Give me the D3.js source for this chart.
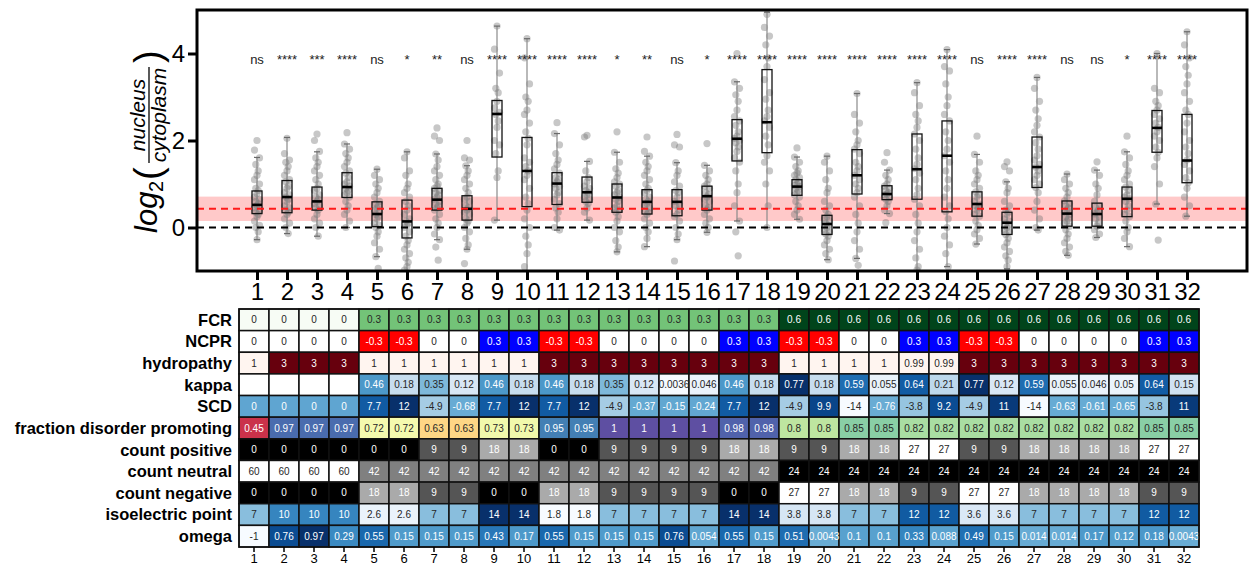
<!DOCTYPE html>
<html>
<head>
<meta charset="utf-8">
<script src="https://cdn.jsdelivr.net/npm/d3@7"></script>
<style>
  body { margin: 0; background: #fff; }
  text { font-family: "Liberation Sans", Arial, sans-serif; }
</style>
</head>
<body>
<script>
// categories (constructs 1..32)
var categories = ["1","2","3","4","5","6","7","8","9","10","11","12","13","14","15","16",
                  "17","18","19","20","21","22","23","24","25","26","27","28","29","30","31","32"];

// significance labels above each box
var significance = ["ns","****","***","****","ns","*","**","ns","****","****","****","****","*","**","ns","*",
                    "****","****","****","****","****","****","****","****","ns","****","****","ns","ns","*","****","****"];

// box statistics, log2(nucleus/cytoplasm)
var boxQ1     = [0.32,0.34,0.40,0.69,0.02,-0.24,0.40,0.17,1.62,0.48,0.53,0.58,0.35,0.31,0.27,0.40,1.53,1.72,0.74,-0.16,0.77,0.64,0.65,0.36,0.26,-0.16,0.92,0.03,0.03,0.25,1.73,1.03];
var boxMedian = [0.52,0.70,0.60,0.93,0.31,0.14,0.64,0.43,2.61,1.30,1.01,0.81,0.69,0.59,0.59,0.72,2.04,2.42,0.94,0.08,1.20,0.77,1.34,1.65,0.54,0.11,1.39,0.32,0.31,0.66,2.29,1.54];
var boxQ3     = [0.84,1.08,0.93,1.26,0.59,0.63,0.90,0.73,2.92,2.07,1.26,1.16,1.00,0.87,0.87,0.95,2.48,3.63,1.10,0.28,1.79,0.96,2.15,2.45,0.82,0.35,2.08,0.61,0.56,0.93,2.69,2.60];
var whiskerLow  = [-0.28,-0.14,-0.20,0.00,-0.67,-1.1,-0.28,-0.50,0.17,-1.1,-0.06,0.17,-0.56,-0.44,-0.28,-0.11,0.15,0.00,0.19,-0.74,-0.71,0.32,-1.1,-0.90,-0.38,-0.95,-0.06,-0.64,-0.23,-0.44,0.54,0.26];
var whiskerHigh = [1.61,2.07,1.74,1.92,1.34,1.74,1.69,1.42,4.63,4.34,2.16,1.52,1.73,1.64,1.49,1.43,3.35,4.95,1.62,1.64,3.08,1.32,3.33,4.09,1.68,1.05,3.45,1.23,1.32,1.74,4.00,4.50];

// individual cells
var points = [
  [2.0,1.78,1.6,1.45,1.3,1.2,1.1,1.0,0.9,0.85,0.78,0.7,0.65,0.6,0.55,0.5,0.45,0.4,0.35,0.3,0.25,0.15,0.05,0.0,-0.1,-0.28],
  [2.05,1.7,1.55,1.5,1.4,1.3,1.2,1.1,1.05,0.95,0.9,0.8,0.75,0.7,0.65,0.6,0.5,0.45,0.4,0.35,0.3,0.2,0.1,0.0,-0.14],
  [2.15,2.0,1.75,1.6,1.5,1.4,1.3,1.2,1.1,1.0,0.9,0.85,0.75,0.7,0.65,0.6,0.55,0.5,0.45,0.4,0.3,0.2,0.1,0.0,-0.2],
  [2.18,1.92,1.8,1.7,1.6,1.5,1.4,1.3,1.25,1.15,1.05,1.0,0.95,0.9,0.85,0.8,0.75,0.7,0.6,0.5,0.4,0.3,0.15,0.0],
  [1.34,1.2,1.1,1.0,0.9,0.8,0.7,0.6,0.55,0.5,0.45,0.4,0.35,0.3,0.25,0.2,0.1,0.05,0.0,-0.1,-0.2,-0.35,-0.5,-0.67,-0.94],
  [1.74,1.6,1.3,1.2,1.0,0.9,0.8,0.7,0.6,0.5,0.4,0.3,0.2,0.15,0.1,0.05,0.0,-0.1,-0.2,-0.3,-0.4,-0.5,-0.6,-0.7,-0.8,-0.9,-0.98],
  [2.29,2.1,2.0,1.69,1.55,1.4,1.3,1.2,1.1,1.0,0.95,0.9,0.85,0.8,0.75,0.7,0.65,0.6,0.55,0.5,0.45,0.4,0.3,0.2,0.1,0.0,-0.15,-0.28,-0.45,-0.75],
  [2.0,1.6,1.55,1.42,1.3,1.2,1.1,1.0,0.9,0.8,0.7,0.65,0.6,0.5,0.45,0.4,0.35,0.3,0.2,0.15,0.1,0.0,-0.1,-0.25,-0.4,-0.5,-0.83],
  [4.63,4.1,3.55,3.2,3.1,2.9,2.75,2.65,2.6,2.45,2.3,2.0,1.9,1.7,1.3,1.15,0.17],
  [4.34,3.9,3.3,3.0,2.9,2.7,2.6,2.4,2.2,2.05,1.9,1.6,1.5,1.4,1.3,1.2,1.1,0.9,0.7,0.55,0.4,0.2,0.0,-0.2,-0.4,-0.6,-0.9],
  [2.41,2.16,1.9,1.7,1.55,1.45,1.35,1.25,1.15,1.1,1.05,1.0,0.95,0.9,0.8,0.75,0.65,0.55,0.45,0.35,0.2,0.0,-0.06],
  [2.12,2.08,1.52,1.3,1.15,1.05,0.95,0.9,0.85,0.8,0.75,0.7,0.65,0.6,0.55,0.45,0.35,0.17],
  [2.2,1.73,1.5,1.35,1.25,1.15,1.05,1.0,0.95,0.85,0.8,0.75,0.7,0.65,0.6,0.5,0.45,0.4,0.35,0.25,0.15,0.0,-0.1,-0.3,-0.45,-0.56],
  [2.08,1.75,1.64,1.5,1.4,1.3,1.2,1.1,1.0,0.9,0.85,0.8,0.7,0.65,0.6,0.55,0.5,0.45,0.4,0.35,0.3,0.2,0.1,0.0,-0.1,-0.25,-0.44],
  [2.14,1.9,1.85,1.49,1.3,1.2,1.05,0.95,0.85,0.8,0.7,0.6,0.55,0.5,0.4,0.3,0.25,0.15,0.0,-0.15,-0.28,-0.77],
  [1.93,1.43,1.3,1.2,1.1,1.0,0.95,0.9,0.8,0.75,0.7,0.65,0.6,0.5,0.45,0.4,0.3,0.2,0.1,0.0,-0.11],
  [4.0,3.35,3.2,3.05,2.9,2.7,2.55,2.45,2.35,2.2,2.1,2.05,2.0,1.95,1.85,1.75,1.6,1.5,1.3,1.0,0.8,0.5,0.15,-0.1,-0.65],
  [4.9,4.6,4.4,4.2,3.9,3.7,3.4,3.1,2.95,2.7,2.55,2.45,2.3,2.1,1.9,1.65,1.5,1.3,1.0,0.5,0.0],
  [1.83,1.62,1.5,1.4,1.3,1.25,1.2,1.15,1.1,1.05,1.0,0.97,0.94,0.9,0.85,0.8,0.75,0.7,0.6,0.5,0.4,0.3,0.19],
  [1.64,1.5,1.3,1.1,0.9,0.8,0.6,0.5,0.4,0.3,0.25,0.2,0.15,0.1,0.05,0.0,-0.05,-0.1,-0.15,-0.2,-0.3,-0.4,-0.5,-0.6,-0.74],
  [3.08,2.6,2.4,2.2,2.0,1.9,1.8,1.7,1.5,1.4,1.3,1.2,1.1,1.0,0.9,0.8,0.7,0.5,0.3,0.1,-0.1,-0.3,-0.5,-0.71,-0.87],
  [1.72,1.5,1.32,1.2,1.1,1.0,0.95,0.9,0.85,0.8,0.77,0.75,0.7,0.65,0.6,0.5,0.4,0.32,0.11],
  [3.33,3.1,2.8,2.6,2.45,2.3,2.15,2.0,1.8,1.6,1.45,1.35,1.25,1.1,0.9,0.75,0.65,0.5,0.3,0.1,-0.1,-0.3,-0.5,-0.7,-0.9,-0.98],
  [4.09,3.7,3.6,3.3,3.0,2.8,2.6,2.45,2.2,2.0,1.8,1.65,1.5,1.3,1.1,0.9,0.7,0.5,0.36,0.2,0.0,-0.2,-0.4,-0.6,-0.9],
  [2.1,1.68,1.5,1.3,1.2,1.1,1.0,0.9,0.82,0.75,0.7,0.6,0.54,0.5,0.45,0.4,0.3,0.26,0.15,0.05,-0.05,-0.15,-0.25,-0.38],
  [1.51,1.4,1.3,1.05,0.9,0.8,0.6,0.5,0.4,0.35,0.3,0.2,0.15,0.1,0.05,0.0,-0.05,-0.1,-0.16,-0.25,-0.35,-0.45,-0.55,-0.65,-0.75,-0.9],
  [3.45,3.2,2.9,2.7,2.5,2.35,2.2,2.08,1.95,1.8,1.65,1.55,1.45,1.39,1.3,1.2,1.1,1.0,0.92,0.8,0.6,0.4,0.2,0.0,-0.06],
  [1.23,1.1,1.0,0.9,0.8,0.7,0.61,0.55,0.5,0.45,0.4,0.35,0.3,0.25,0.2,0.15,0.1,0.03,-0.05,-0.15,-0.25,-0.35,-0.45,-0.55,-0.64],
  [1.51,1.32,1.2,1.0,0.9,0.75,0.6,0.5,0.45,0.4,0.35,0.31,0.25,0.2,0.1,0.03,-0.05,-0.15,-0.23],
  [2.1,1.74,1.6,1.45,1.3,1.2,1.1,1.0,0.93,0.85,0.75,0.7,0.66,0.6,0.5,0.4,0.3,0.25,0.15,0.0,-0.1,-0.25,-0.44],
  [4.0,3.2,3.1,2.9,2.8,2.7,2.6,2.5,2.4,2.3,2.2,2.1,2.0,1.85,1.73,1.6,1.4,1.0,0.54,-0.29],
  [4.5,4.2,3.9,3.7,3.5,3.3,3.1,2.9,2.7,2.6,2.4,2.2,2.0,1.85,1.7,1.55,1.45,1.3,1.15,1.03,0.9,0.7,0.5,0.26]
];

// reference band (mean +/- spread) and reference line
var refBand = [0.15, 0.71];
var refLine = 0.43;

// heatmap rows
var rowNames = ["FCR","NCPR","hydropathy","kappa","SCD","fraction disorder promoting",
                "count positive","count neutral","count negative","isoelectric point","omega"];
var fcr = [0,0,0,0,0.3,0.3,0.3,0.3,0.3,0.3,0.3,0.3,0.3,0.3,0.3,0.3,0.3,0.3,0.6,0.6,0.6,0.6,0.6,0.6,0.6,0.6,0.6,0.6,0.6,0.6,0.6,0.6];
var ncpr = [0,0,0,0,-0.3,-0.3,0,0,0.3,0.3,-0.3,-0.3,0,0,0,0,0.3,0.3,-0.3,-0.3,0,0,0.3,0.3,-0.3,-0.3,0,0,0,0,0.3,0.3];
var hydropathy = [1,3,3,3,1,1,1,1,1,1,3,3,3,3,3,3,3,3,1,1,1,1,0.99,0.99,3,3,3,3,3,3,3,3];
var kappa = [null,null,null,null,0.46,0.18,0.35,0.12,0.46,0.18,0.46,0.18,0.35,0.12,0.0036,0.046,0.46,0.18,0.77,0.18,0.59,0.055,0.64,0.21,0.77,0.12,0.59,0.055,0.046,0.05,0.64,0.15];
var scd = [0,0,0,0,7.7,12,-4.9,-0.68,7.7,12,7.7,12,-4.9,-0.37,-0.15,-0.24,7.7,12,-4.9,9.9,-14,-0.76,-3.8,9.2,-4.9,11,-14,-0.63,-0.61,-0.65,-3.8,11];
var fracDisorder = [0.45,0.97,0.97,0.97,0.72,0.72,0.63,0.63,0.73,0.73,0.95,0.95,1,1,1,1,0.98,0.98,0.8,0.8,0.85,0.85,0.82,0.82,0.82,0.82,0.82,0.82,0.82,0.82,0.85,0.85];
var countPositive = [0,0,0,0,0,0,9,9,18,18,0,0,9,9,9,9,18,18,9,9,18,18,27,27,9,9,18,18,18,18,27,27];
var countNeutral = [60,60,60,60,42,42,42,42,42,42,42,42,42,42,42,42,42,42,24,24,24,24,24,24,24,24,24,24,24,24,24,24];
var countNegative = [0,0,0,0,18,18,9,9,0,0,18,18,9,9,9,9,0,0,27,27,18,18,9,9,27,27,18,18,18,18,9,9];
var isoelectric = [7,10,10,10,2.6,2.6,7,7,14,14,1.8,1.8,7,7,7,7,14,14,3.8,3.8,7,7,12,12,3.6,3.6,7,7,7,7,12,12];
var omega = [-1,0.76,0.97,0.29,0.55,0.15,0.15,0.15,0.43,0.17,0.55,0.15,0.15,0.15,0.76,0.054,0.55,0.15,0.51,0.0043,0.1,0.1,0.33,0.088,0.49,0.15,0.014,0.014,0.17,0.12,0.18,0.0043];

window.onload = function () {
    var w = 1249, h = 565;

    var svg = d3.select('body').append('svg')
        .attr('width', w)
        .attr('height', h);

    // ---------- box plot panel ----------
    var plot = {left: 197, right: 1247, top: 10, bottom: 271};

    var x = d3.scalePoint()
        .domain(categories)
        .range([plot.left, plot.right])
        .padding(2);

    var y = d3.scaleLinear()
        .domain([-1, 5])
        .range([plot.bottom, plot.top]);

    svg.append('clipPath').attr('id', 'plotClip')
        .append('rect')
        .attr('x', plot.left).attr('y', plot.top)
        .attr('width', plot.right - plot.left)
        .attr('height', plot.bottom - plot.top);

    var inner = svg.append('g').attr('clip-path', 'url(#plotClip)');

    inner.append('rect')
        .attr('x', plot.left)
        .attr('width', plot.right - plot.left)
        .attr('y', y(refBand[1]))
        .attr('height', y(refBand[0]) - y(refBand[1]))
        .style('fill', '#ffc9c9');

    var boxes = categories.map(function (c, i) {
        return {cat: c, q1: boxQ1[i], med: boxMedian[i], q3: boxQ3[i],
                lo: whiskerLow[i], hi: whiskerHigh[i], pts: points[i], sig: significance[i]};
    });

    var jitter = [0, -2.5, 2.5, -1.2, 1.2];

    var groups = inner.selectAll('.box')
        .data(boxes)
        .enter()
        .append('g')
        .attr('class', 'box');

    groups.selectAll('circle')
        .data(function (d) {
            return d.pts.map(function (v, j) { return {cat: d.cat, v: v, j: j}; });
        })
        .enter()
        .append('circle')
        .attr('cx', function (d) { return x(d.cat) + jitter[d.j % 5]; })
        .attr('cy', function (d) { return y(d.v); })
        .attr('r', 3.6)
        .style('fill', 'rgba(115,115,115,0.4)');

    var bw = 10;

    groups.append('line')
        .attr('x1', function (d) { return x(d.cat); })
        .attr('x2', function (d) { return x(d.cat); })
        .attr('y1', function (d) { return y(d.lo); })
        .attr('y2', function (d) { return y(d.hi); })
        .style('stroke', '#8a8a8a')
        .style('stroke-width', 1.2);

    ['lo', 'hi'].forEach(function (k) {
        groups.append('line')
            .attr('x1', function (d) { return x(d.cat) - 3; })
            .attr('x2', function (d) { return x(d.cat) + 3; })
            .attr('y1', function (d) { return y(d[k]); })
            .attr('y2', function (d) { return y(d[k]); })
            .style('stroke', '#6a6a6a')
            .style('stroke-width', 1.2);
    });

    groups.append('rect')
        .attr('x', function (d) { return x(d.cat) - bw / 2; })
        .attr('y', function (d) { return y(d.q3); })
        .attr('width', bw)
        .attr('height', function (d) { return y(d.q1) - y(d.q3); })
        .style('fill', 'none')
        .style('stroke', '#111')
        .style('stroke-width', 1.3);

    groups.append('line')
        .attr('x1', function (d) { return x(d.cat) - bw / 2; })
        .attr('x2', function (d) { return x(d.cat) + bw / 2; })
        .attr('y1', function (d) { return y(d.med); })
        .attr('y2', function (d) { return y(d.med); })
        .style('stroke', '#000')
        .style('stroke-width', 2.6);

    // dashed reference lines
    inner.append('line')
        .attr('x1', plot.left).attr('x2', plot.right)
        .attr('y1', y(refLine)).attr('y2', y(refLine))
        .style('stroke', '#ff1a1a')
        .style('stroke-width', 2)
        .style('stroke-dasharray', '7,5');

    inner.append('line')
        .attr('x1', plot.left).attr('x2', plot.right)
        .attr('y1', y(0)).attr('y2', y(0))
        .style('stroke', '#000')
        .style('stroke-width', 2)
        .style('stroke-dasharray', '7,5');

    // significance labels
    svg.selectAll('.sig')
        .data(boxes)
        .enter()
        .append('text')
        .attr('class', 'sig')
        .attr('x', function (d) { return x(d.cat); })
        .attr('y', y(3.75))
        .attr('text-anchor', 'middle')
        .style('font-size', '13px')
        .style('fill', '#222')
        .text(function (d) { return d.sig; });

    // frame
    svg.append('rect')
        .attr('x', plot.left).attr('y', plot.top)
        .attr('width', plot.right - plot.left)
        .attr('height', plot.bottom - plot.top)
        .style('fill', 'none')
        .style('stroke', '#000')
        .style('stroke-width', 3);

    var xAxis = svg.append('g')
        .attr('class', 'axis')
        .attr('transform', 'translate(0,' + plot.bottom + ')')
        .call(d3.axisBottom(x).tickSize(9));

    var yAxis = svg.append('g')
        .attr('class', 'axis')
        .attr('transform', 'translate(' + plot.left + ',0)')
        .call(d3.axisLeft(y).tickValues([0, 2, 4]).tickFormat(d3.format('d')).tickSize(9));

    [xAxis, yAxis].forEach(function (a) {
        a.select('.domain').remove();
        a.selectAll('line').style('stroke', '#000').style('stroke-width', 3);
        a.selectAll('text')
            .style('font-family', '"Liberation Sans", Arial, sans-serif')
            .style('font-size', '24px')
            .style('fill', '#000');
    });

    // y axis title: log2(nucleus / cytoplasm)
    var yt = svg.append('g')
        .attr('transform', 'translate(157,233) rotate(-90)');
    yt.append('text').attr('x', 0).attr('y', 0)
        .style('font-size', '31px').style('font-style', 'italic').text('log');
    yt.append('text').attr('x', 41).attr('y', 6)
        .style('font-size', '20px').text('2');
    yt.append('text').attr('x', 53).attr('y', 4)
        .style('font-size', '38px').text('(');
    yt.append('text').attr('x', 118).attr('y', -12)
        .attr('text-anchor', 'middle')
        .style('font-size', '21px').style('font-style', 'italic').text('nucleus');
    yt.append('line')
        .attr('x1', 70).attr('x2', 166)
        .attr('y1', -8).attr('y2', -8)
        .style('stroke', '#000').style('stroke-width', 1.3);
    yt.append('text').attr('x', 118).attr('y', 9)
        .attr('text-anchor', 'middle')
        .style('font-size', '21px').style('font-style', 'italic').text('cytoplasm');
    yt.append('text').attr('x', 170).attr('y', 4)
        .style('font-size', '38px').text(')');

    // ---------- heatmap ----------
    var hm = {left: 239, right: 1199, top: 309, bottom: 547};

    var hx = d3.scaleBand()
        .domain(categories)
        .range([hm.left, hm.right]);

    var hy = d3.scaleBand()
        .domain(rowNames)
        .range([hm.top, hm.bottom]);

    var greyRamp = d3.interpolateRgb('#000000', '#ffffff');

    var rowData = [
        {name: 'FCR', vals: fcr, color: d3.scaleSequential(d3.interpolateGreens).domain([0, 0.6])},
        {name: 'NCPR', vals: ncpr, color: d3.scaleLinear().domain([-0.3, 0, 0.3]).range(['#ff0000', '#ffffff', '#0000ff'])},
        {name: 'hydropathy', vals: hydropathy, color: d3.scaleSequential(d3.interpolateReds).domain([1, 3]).clamp(true)},
        {name: 'kappa', vals: kappa, color: d3.scaleSequential(d3.interpolateBlues).domain([0, 0.77])},
        {name: 'SCD', vals: scd, color: d3.scaleSequential(d3.interpolateBlues).domain([-14, 12])},
        {name: 'fraction disorder promoting', vals: fracDisorder, color: d3.scaleSequential(d3.interpolateSpectral).domain([0.4, 1])},
        {name: 'count positive', vals: countPositive, color: d3.scaleSequential(greyRamp).domain([0, 27])},
        {name: 'count neutral', vals: countNeutral, color: d3.scaleSequential(greyRamp).domain([24, 60])},
        {name: 'count negative', vals: countNegative, color: d3.scaleSequential(greyRamp).domain([0, 27])},
        {name: 'isoelectric point', vals: isoelectric, color: d3.scaleSequential(d3.interpolateBlues).domain([1.8, 14])},
        {name: 'omega', vals: omega, color: d3.scaleSequential(d3.interpolateBlues).domain([-1, 0.97])}
    ];

    var cells = [];
    rowData.forEach(function (r) {
        r.vals.forEach(function (v, i) {
            cells.push({row: r.name, cat: categories[i], v: v,
                        fill: v === null ? '#ffffff' : r.color(v)});
        });
    });

    function lum(c) {
        var rgb = d3.rgb(c);
        function lin(u) { u = u / 255; return u <= 0.03928 ? u / 12.92 : Math.pow((u + 0.055) / 1.055, 2.4); }
        return 0.2126 * lin(rgb.r) + 0.7152 * lin(rgb.g) + 0.0722 * lin(rgb.b);
    }

    var cellG = svg.append('g').attr('class', 'heatmap');

    cellG.selectAll('rect')
        .data(cells)
        .enter()
        .append('rect')
        .attr('x', function (d) { return hx(d.cat); })
        .attr('y', function (d) { return hy(d.row); })
        .attr('width', hx.bandwidth())
        .attr('height', hy.bandwidth())
        .style('fill', function (d) { return d.fill; })
        .style('stroke', '#111')
        .style('stroke-width', 1.5);

    cellG.selectAll('text')
        .data(cells.filter(function (d) { return d.v !== null; }))
        .enter()
        .append('text')
        .attr('x', function (d) { return hx(d.cat) + hx.bandwidth() / 2; })
        .attr('y', function (d) { return hy(d.row) + hy.bandwidth() / 2; })
        .attr('dy', '0.35em')
        .attr('text-anchor', 'middle')
        .style('font-size', '10px')
        .style('fill', function (d) { return lum(d.fill) > 0.408 ? '#262626' : '#ffffff'; })
        .text(function (d) { return String(d.v); });

    svg.append('rect')
        .attr('x', hm.left).attr('y', hm.top)
        .attr('width', hm.right - hm.left)
        .attr('height', hm.bottom - hm.top)
        .style('fill', 'none')
        .style('stroke', '#111')
        .style('stroke-width', 1.5);

    // row labels
    svg.selectAll('.rowLabel')
        .data(rowNames)
        .enter()
        .append('text')
        .attr('class', 'rowLabel')
        .attr('x', 232)
        .attr('y', function (d) { return hy(d) + hy.bandwidth() / 2; })
        .attr('dy', '0.36em')
        .attr('text-anchor', 'end')
        .style('font-size', '16.5px')
        .style('font-weight', 'bold')
        .text(function (d) { return d; });

    // heatmap column axis
    var hAxis = svg.append('g')
        .attr('transform', 'translate(0,' + hm.bottom + ')')
        .call(d3.axisBottom(hx).tickSize(5).tickPadding(2));
    hAxis.select('.domain').remove();
    hAxis.selectAll('line').style('stroke', '#000').style('stroke-width', 1.5);
    hAxis.selectAll('text')
        .style('font-family', '"Liberation Sans", Arial, sans-serif')
        .style('font-size', '13px')
        .style('fill', '#000');
};
</script>
</body>
</html>
